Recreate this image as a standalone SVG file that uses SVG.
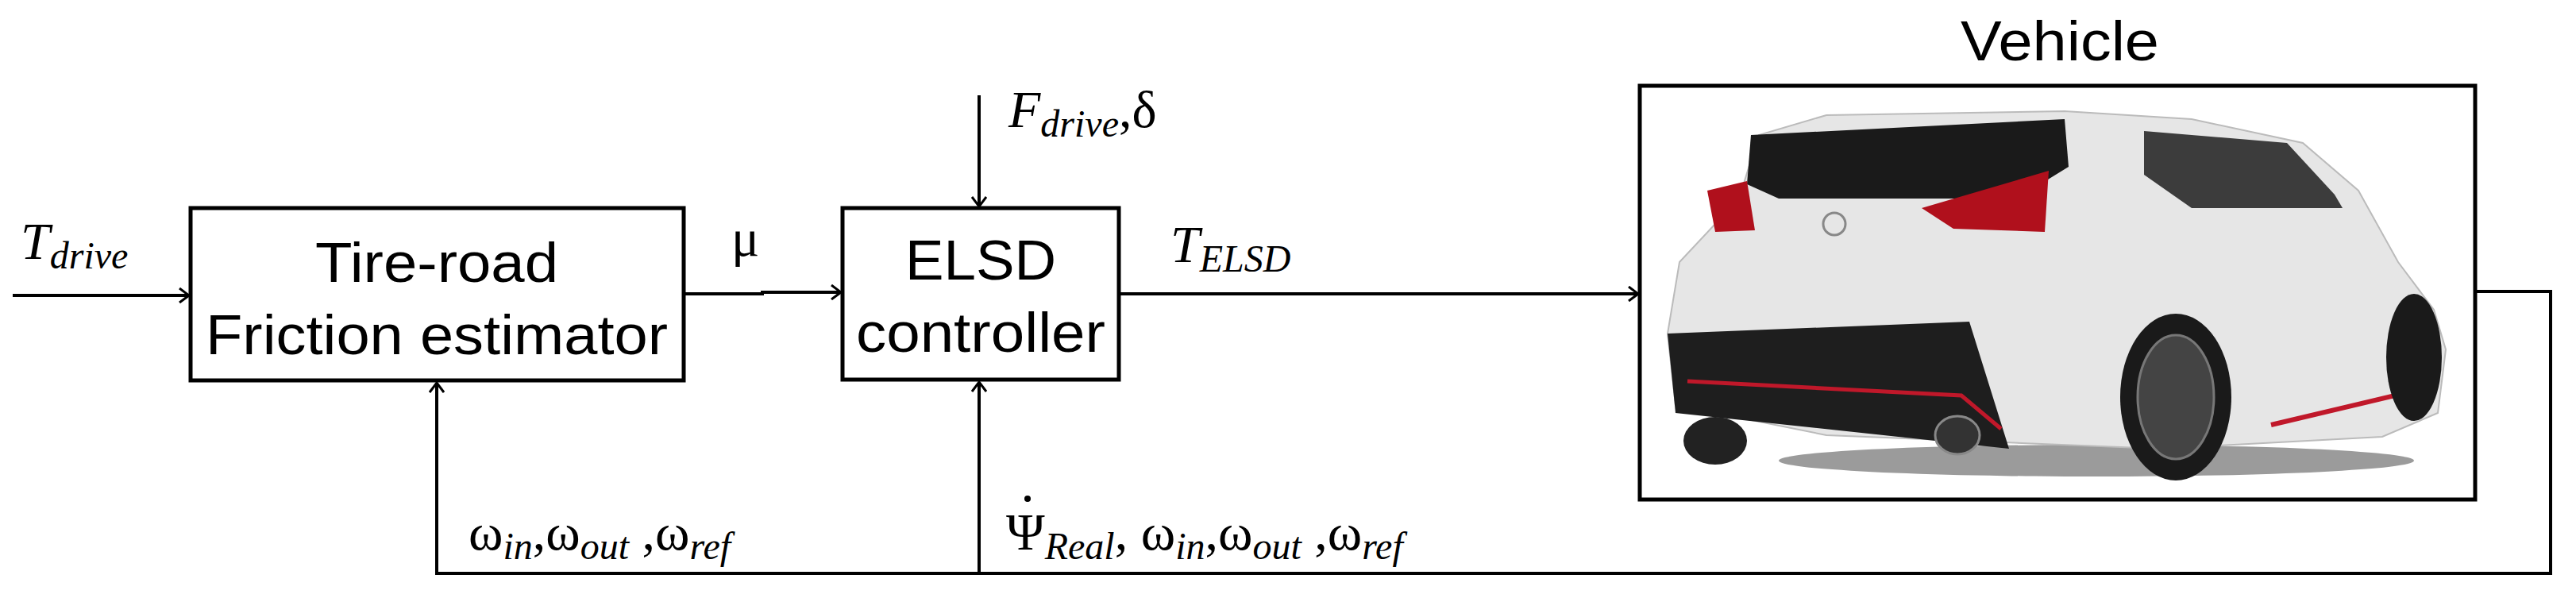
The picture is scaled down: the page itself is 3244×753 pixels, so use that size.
<svg xmlns="http://www.w3.org/2000/svg" width="3244" height="753" viewBox="0 0 3244 753">
<style>
.b{fill:#fff;stroke:#000;stroke-width:5}
.l{fill:none;stroke:#000;stroke-width:4}
.t{font-family:"Liberation Sans",Arial,sans-serif;font-size:70px;text-anchor:middle}
.m{font-family:"Liberation Serif","Times New Roman",serif;font-size:66px}
.i{font-style:italic}
.s{font-size:48px;font-style:italic}
</style>
<defs>
<marker id="a" markerWidth="14" markerHeight="20" refX="13" refY="10" orient="auto" markerUnits="userSpaceOnUse"><path d="M1,1 L13,10 L1,19" fill="none" stroke="#000" stroke-width="3"/></marker>
</defs>
<rect width="3244" height="753" fill="#fff"/>
<g id="connectors">
<line class="l" x1="16" y1="372" x2="238" y2="372" marker-end="url(#a)"/>
<polyline class="l" points="863,370 960,370 960,368 1059,368" marker-end="url(#a)"/>
<line class="l" x1="1233" y1="120" x2="1233" y2="260" marker-end="url(#a)"/>
<line class="l" x1="1409" y1="370" x2="2063" y2="370" marker-end="url(#a)"/>
<polyline class="l" points="3117,367 3212,367 3212,722 550,722 550,482" marker-end="url(#a)"/>
<line class="l" x1="1233" y1="722" x2="1233" y2="481" marker-end="url(#a)"/>
</g>
<g id="friction"><rect class="b" x="240" y="262" width="621" height="217"/>
<text class="t" x="550" y="355" textLength="306" lengthAdjust="spacingAndGlyphs">Tire-road</text>
<text class="t" x="550" y="446" textLength="582" lengthAdjust="spacingAndGlyphs">Friction estimator</text></g>
<g id="elsd"><rect class="b" x="1061" y="262" width="348" height="216"/>
<text class="t" x="1235" y="352" textLength="190" lengthAdjust="spacingAndGlyphs">ELSD</text>
<text class="t" x="1235" y="443" textLength="314" lengthAdjust="spacingAndGlyphs">controller</text></g>
<g id="vehicle"><rect class="b" x="2065" y="108" width="1052" height="521"/>
<text class="t" x="2594" y="76" textLength="250" lengthAdjust="spacingAndGlyphs">Vehicle</text>
<g id="car">
<ellipse cx="2640" cy="580" rx="400" ry="20" fill="#222" opacity="0.45"/>
<path d="M2190,250 L2215,170 L2300,145 L2600,140 L2760,150 L2900,180 L2970,240 L3020,330 L3065,390 L3080,440 L3070,520 L3000,550 L2720,565 L2300,548 L2110,510 L2100,420 L2115,330 Z" fill="#e6e6e6" stroke="#bbb" stroke-width="2"/>
<path d="M2205,170 L2600,150 L2605,210 L2540,250 L2240,250 L2200,232 Z" fill="#1a1a1a"/>
<path d="M2700,165 L2880,180 L2940,245 L2950,262 L2760,262 L2700,220 Z" fill="#3c3c3c"/>
<path d="M2150,240 L2200,228 L2210,290 L2160,292 Z" fill="#b0101c"/>
<path d="M2420,262 L2580,215 L2575,292 L2460,288 Z" fill="#b0101c"/>
<path d="M2100,420 L2480,405 L2530,565 L2110,520 Z" fill="#1e1e1e"/>
<path d="M2125,480 L2470,498 L2520,540" fill="none" stroke="#c0182a" stroke-width="5"/>
<path d="M2860,535 L3050,490" stroke="#c0182a" stroke-width="6"/>
<ellipse cx="2160" cy="555" rx="40" ry="30" fill="#222"/>
<ellipse cx="2465" cy="548" rx="28" ry="24" fill="#333" stroke="#888" stroke-width="3"/>
<ellipse cx="2740" cy="500" rx="70" ry="105" fill="#1a1a1a"/>
<ellipse cx="2740" cy="500" rx="48" ry="78" fill="#444" stroke="#777" stroke-width="3"/>
<ellipse cx="3040" cy="450" rx="35" ry="80" fill="#1a1a1a"/>
<circle cx="2310" cy="282" r="14" fill="none" stroke="#888" stroke-width="3"/>
</g></g>
<g id="labels">
<text class="m i" x="26" y="326">T<tspan class="s" dy="12">drive</tspan></text>
<text class="m" x="921" y="322">μ</text>
<text class="m i" x="1270" y="160">F<tspan class="s" dy="12">drive</tspan><tspan dy="-12" font-style="normal">,δ</tspan></text>
<text class="m i" x="1474" y="330">T<tspan class="s" dy="12">ELSD</tspan></text>
<text class="m" x="590" y="692">ω<tspan class="s" dy="12">in</tspan><tspan dy="-12">,ω</tspan><tspan class="s" dy="12">out</tspan><tspan dy="-12"> ,ω</tspan><tspan class="s" dy="12">ref</tspan></text>
<circle cx="1294" cy="628" r="4" fill="#000"/>
<text class="m" x="1267" y="692">Ψ<tspan class="s" dy="12">Real</tspan><tspan dy="-12">, ω</tspan><tspan class="s" dy="12">in</tspan><tspan dy="-12">,ω</tspan><tspan class="s" dy="12">out</tspan><tspan dy="-12"> ,ω</tspan><tspan class="s" dy="12">ref</tspan></text>
</g>
</svg>
